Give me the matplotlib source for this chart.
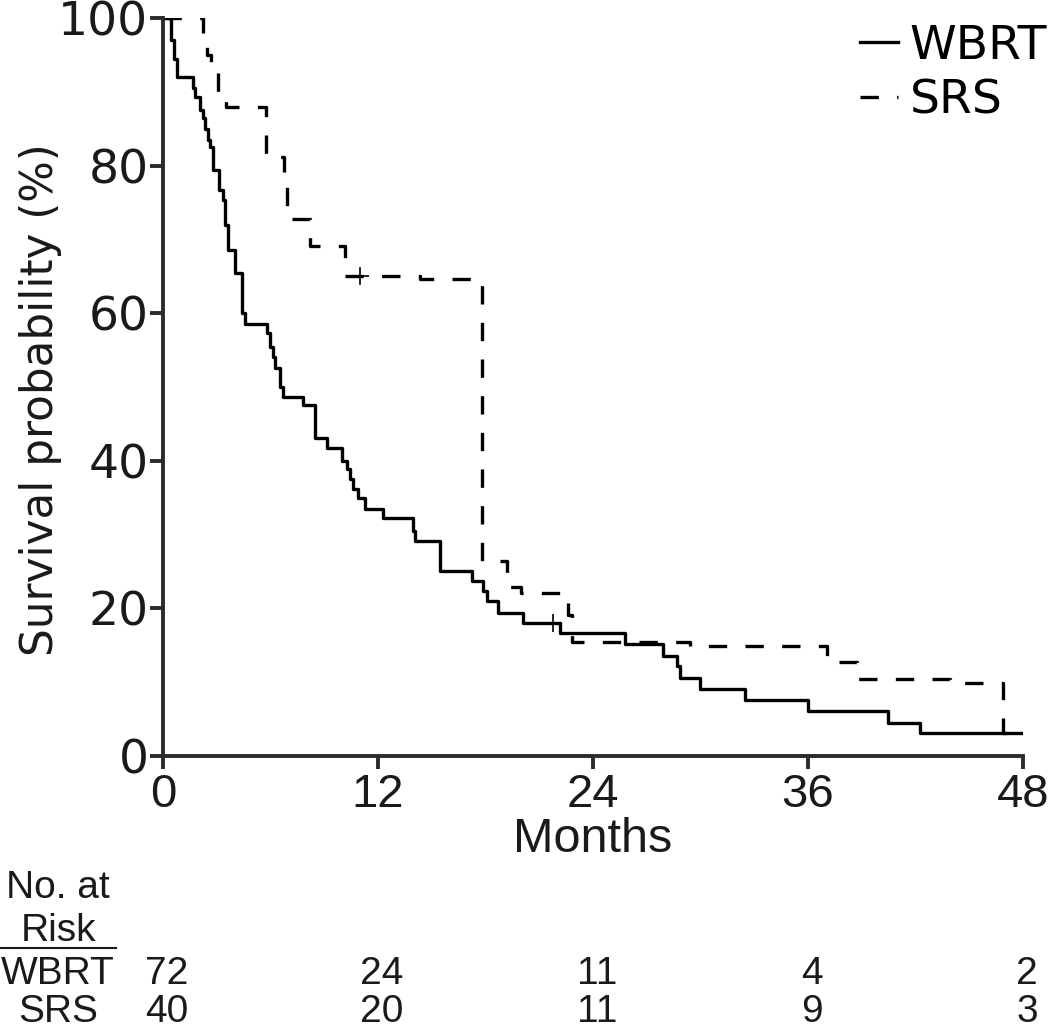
import numpy as np
import matplotlib
matplotlib.use('Agg')
import matplotlib.pyplot as plt
from matplotlib import transforms

# Curvas de supervivencia (meses, %)
wbrt_t = [0, 0.45, 0.61, 0.78, 1.67, 1.79, 2.06, 2.23, 2.34, 2.51, 2.62, 2.79,
          3.13, 3.35, 3.46, 3.63, 4.02, 4.41, 4.58, 5.80, 5.97, 6.14, 6.25,
          6.53, 6.70, 7.81, 8.48, 9.15, 9.99, 10.27, 10.44, 10.60, 10.88,
          11.27, 12.28, 13.95, 14.06, 15.46, 17.24, 17.86, 18.08, 18.69,
          20.09, 22.15, 25.78, 27.90, 28.68, 28.85, 29.97, 32.48, 35.99,
          40.46, 42.24, 48]
wbrt_s = [100, 97, 94.5, 92, 90.5, 89.3, 87.5, 86.4, 85, 83.5, 82.5, 79.4,
          76.7, 75.3, 72, 68.5, 65.5, 60, 58.6, 57.3, 55.4, 54, 52.6,
          50, 48.6, 47.5, 43.1, 41.8, 40, 38.9, 37.6, 36.2, 34.9,
          33.5, 32.2, 30.5, 29.2, 25.1, 23.7, 22.4, 21.0, 19.4,
          18.0, 16.7, 15.2, 13.6, 12.2, 10.6, 9.1, 7.6, 6.1,
          4.5, 3.1, 3.1]

srs_t = [0, 2.23, 2.46, 2.68, 3.07, 3.52, 5.75, 6.75, 6.92, 8.20, 10.16,
         14.34, 17.80, 19.20, 19.98, 22.60, 22.82, 29.4, 37.05, 38.73, 43.9,
         46.88, 48]
srs_s = [100, 97.5, 95, 92.5, 90, 88, 81.1, 77.4, 72.8, 69.1, 65.0,
         64.6, 26.4, 22.9, 22.1, 19.1, 15.4, 14.9, 12.7, 10.4, 9.9,
         3.1, 3.1]

# Censuras
wbrt_cens_t = [21.76]
wbrt_cens_s = [18.0]
srs_cens_t = [10.99]
srs_cens_s = [65.0]

# Número en riesgo
meses_riesgo = [0, 12, 24, 36, 48]
riesgo_wbrt = [72, 24, 11, 4, 2]
riesgo_srs = [40, 20, 11, 9, 3]

ancho = ['DejaVu Sans']
normal = ['Liberation Sans', 'DejaVu Sans']
color_eje = '#2b2b2b'
color_txt = '#1a1a1a'

fig = plt.figure(figsize=(10.5, 10.31), dpi=100)
ax = fig.add_axes([163/1050, 1 - 756/1031, (1023 - 163)/1050, (756 - 18)/1031])

ax.step(wbrt_t, wbrt_s, where='post', color='black', lw=2.4, label='WBRT')
ax.step(srs_t, srs_s, where='post', color='black', lw=2.4,
        linestyle=(0, (5.5, 5.5)), label='SRS')
ax.plot(wbrt_cens_t, wbrt_cens_s, '+', color='black', ms=13, mew=1.2)
ax.plot(srs_cens_t, srs_cens_s, '+', color='black', ms=13, mew=1.2)

ax.set_xlim(0, 48)
ax.set_ylim(0, 100)
ax.set_xticks(meses_riesgo)
ax.set_yticks([0, 20, 40, 60, 80, 100])

for s in ['top', 'right']:
    ax.spines[s].set_visible(False)
for s in ['left', 'bottom']:
    ax.spines[s].set_color(color_eje)
    ax.spines[s].set_linewidth(2.8)
ax.tick_params(direction='out', length=9.5, width=2.8, color=color_eje)
ax.tick_params(axis='x', pad=3)
ax.tick_params(axis='y', pad=1)
for lab in ax.get_yticklabels():
    lab.set_fontfamily(ancho)
    lab.set_fontsize(34)
    lab.set_color(color_txt)
for lab in ax.get_xticklabels():
    lab.set_fontfamily(normal)
    lab.set_fontsize(34)
    lab.set_color(color_txt)

ax.set_ylabel('Survival probability (%)', fontfamily=ancho, fontsize=31.5,
              color=color_txt)
ax.yaxis.set_label_coords(-0.118, 0.483)
ax.set_xlabel('Months', fontfamily=normal, fontsize=35, color=color_txt)
ax.xaxis.set_label_coords(0.5, -0.082)

fig.legend(loc='upper right', bbox_to_anchor=(1047/1050, 1 - 24/1031),
           frameon=False, handlelength=0.8, handletextpad=0.25,
           borderpad=0, borderaxespad=0, labelspacing=0.2,
           prop={'family': ancho, 'size': 34})

# Tabla de número en riesgo
desp = transforms.ScaledTranslation(4/100, 0, fig.dpi_scale_trans)
trans = transforms.blended_transform_factory(ax.transData, fig.transFigure) + desp
for m, w, s in zip(meses_riesgo, riesgo_wbrt, riesgo_srs):
    ax.text(m, 1 - 984/1031, str(w), transform=trans, ha='center', va='baseline',
            fontfamily=normal, fontsize=28, color=color_txt)
    ax.text(m, 1 - 1022/1031, str(s), transform=trans, ha='center', va='baseline',
            fontfamily=normal, fontsize=28, color=color_txt)

fig.text(58/1050, 1 - 898/1031, 'No. at', ha='center', va='baseline',
         fontfamily=normal, fontsize=28, color=color_txt)
fig.text(58/1050, 1 - 941/1031, 'Risk', ha='center', va='baseline',
         fontfamily=normal, fontsize=28, color=color_txt)
fig.add_artist(plt.Line2D([0, 116/1050], [1 - 948/1031, 1 - 948/1031],
                          transform=fig.transFigure, color=color_txt, lw=1.5))
fig.text(58/1050, 1 - 984/1031, 'WBRT', ha='center', va='baseline',
         fontfamily=normal, fontsize=28, color=color_txt)
fig.text(58/1050, 1 - 1022/1031, 'SRS', ha='center', va='baseline',
         fontfamily=normal, fontsize=28, color=color_txt)

fig.savefig('out.png', dpi=100)
